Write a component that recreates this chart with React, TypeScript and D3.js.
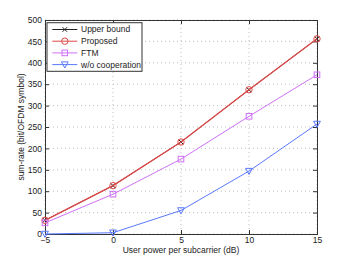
import { useEffect, useRef } from "react";
import * as d3 from "d3";

// data
const powers = [-5, 0, 5, 10, 15];
const upperBound = [32, 113, 215, 337, 456];
const proposed = [32, 113, 215, 337, 456];
const ftm = [26, 93, 175, 275, 372];
const noCoop = [0, 3, 55, 147, 257];
const xTicks = [-5, 0, 5, 10, 15];
const yTicks = [0, 50, 100, 150, 200, 250, 300, 350, 400, 450, 500];

const SERIES = [
  { name: "Upper bound", values: upperBound, color: "#222222", marker: "x", lw: 0.8 },
  { name: "Proposed", values: proposed, color: "#e04848", marker: "o", lw: 1.3 },
  { name: "FTM", values: ftm, color: "#d070f8", marker: "s", lw: 1 },
  { name: "w/o cooperation", values: noCoop, color: "#5a78ff", marker: "v", lw: 1 },
];

const W = 350;
const H = 264;
const M = { left: 45, top: 20, right: 33, bottom: 30 };
const FONT = "Liberation Sans, Arial, sans-serif";
const FS = 8.5;

const drawMarker = (g: any, kind: string, cx: number, cy: number, color: string) => {
  if (kind === "x") {
    const r = 2.3;
    g.append("path")
      .attr("d", `M${cx - r},${cy - r}L${cx + r},${cy + r}M${cx - r},${cy + r}L${cx + r},${cy - r}`)
      .attr("stroke", color)
      .attr("stroke-width", 1)
      .attr("fill", "none");
  } else if (kind === "o") {
    g.append("circle")
      .attr("cx", cx)
      .attr("cy", cy)
      .attr("r", 3.2)
      .attr("stroke", color)
      .attr("fill", "none");
  } else if (kind === "s") {
    g.append("rect")
      .attr("x", cx - 2.8)
      .attr("y", cy - 2.8)
      .attr("width", 5.6)
      .attr("height", 5.6)
      .attr("stroke", color)
      .attr("fill", "none");
  } else {
    const r = 3.4;
    g.append("path")
      .attr("d", `M${cx - r},${cy - r * 0.8}L${cx + r},${cy - r * 0.8}L${cx},${cy + r}Z`)
      .attr("stroke", color)
      .attr("fill", "none");
  }
};

export default function App() {
  const ref = useRef<SVGSVGElement>(null);

  useEffect(() => {
    const svg = d3.select(ref.current);
    svg.selectAll("*").remove();
    const iw = W - M.left - M.right;
    const ih = H - M.top - M.bottom;
    const x = d3.scaleLinear().domain([-5, 15]).range([0, iw]);
    const y = d3.scaleLinear().domain([0, 500]).range([ih, 0]);

    svg.append("rect").attr("width", W).attr("height", H).attr("fill", "#fff");
    const g = svg.append("g").attr("transform", `translate(${M.left},${M.top})`);

    // grid
    const grid = g.append("g").attr("stroke", "#b0b0b0").attr("stroke-dasharray", "1,3").attr("stroke-width", 0.8);
    xTicks.forEach((t) => {
      grid.append("line").attr("x1", x(t)).attr("x2", x(t)).attr("y1", 0).attr("y2", ih);
    });
    yTicks.forEach((t) => {
      grid.append("line").attr("x1", 0).attr("x2", iw).attr("y1", y(t)).attr("y2", y(t));
    });

    // axes, ticks inward
    const xa = g.append("g").attr("transform", `translate(0,${ih})`)
      .call(d3.axisBottom(x).tickValues(xTicks).tickSize(-4).tickPadding(3));
    const xt = g.append("g").call(d3.axisTop(x).tickValues(xTicks).tickSize(-4).tickFormat(() => ""));
    const ya = g.append("g").call(d3.axisLeft(y).tickValues(yTicks).tickSize(-4).tickPadding(3));
    const yr = g.append("g").attr("transform", `translate(${iw},0)`)
      .call(d3.axisRight(y).tickValues(yTicks).tickSize(-4).tickFormat(() => ""));
    [xa, xt, ya, yr].forEach((a) => {
      a.select(".domain").attr("stroke", "#333");
      a.selectAll(".tick line").attr("stroke", "#333");
      a.selectAll("text").attr("font-family", FONT).attr("font-size", FS).attr("fill", "#222");
    });

    // lines + markers
    SERIES.forEach((s) => {
      const line = d3.line<number>().x((_, i) => x(powers[i])).y((d) => y(d));
      g.append("path").datum(s.values).attr("d", line).attr("fill", "none")
        .attr("stroke", s.color).attr("stroke-width", s.lw);
      s.values.forEach((v, i) => drawMarker(g, s.marker, x(powers[i]), y(v), s.color));
    });

    // legend
    const lg = g.append("g").attr("transform", "translate(2,2.7)");
    lg.append("rect").attr("width", 95).attr("height", 48.6).attr("fill", "#fff").attr("stroke", "#333");
    SERIES.forEach((s, i) => {
      const ly = 6.8 + i * 11.7;
      lg.append("line").attr("x1", 5.3).attr("x2", 30.3).attr("y1", ly).attr("y2", ly)
        .attr("stroke", s.color);
      drawMarker(lg, s.marker, 17.8, ly, s.color);
      lg.append("text").attr("x", 34).attr("y", ly + 3).text(s.name)
        .attr("font-family", FONT).attr("font-size", FS).attr("fill", "#222");
    });

    // labels
    svg.append("text").attr("x", M.left + iw / 2).attr("y", H - 11).attr("text-anchor", "middle")
      .attr("font-family", FONT).attr("font-size", FS).attr("fill", "#222")
      .text("User power per subcarrier (dB)");
    svg.append("text").attr("transform", `translate(23.5,${M.top + ih / 2}) rotate(-90)`)
      .attr("text-anchor", "middle").attr("font-family", FONT).attr("font-size", FS).attr("fill", "#222")
      .text("sum-rate (bit/OFDM symbol)");
  }, []);

  return (
    <svg ref={ref} width={W} height={H} style={{ position: "absolute", left: 0, top: 0 }} />
  );
}
